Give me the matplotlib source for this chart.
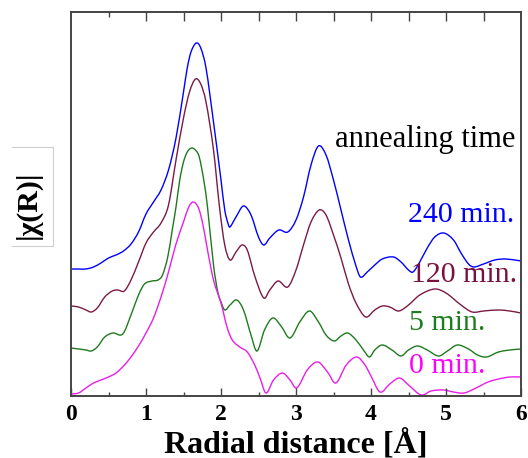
import matplotlib
matplotlib.use("Agg")
import matplotlib.pyplot as plt
from matplotlib.lines import Line2D
from matplotlib.path import Path
from matplotlib.patches import PathPatch
from matplotlib.ticker import MultipleLocator, FixedLocator, NullFormatter

# ---------------- data (heights in arbitrary units, curves stacked) ----------------
r_240 = [0, 0.1, 0.2, 0.3, 0.4, 0.5, 0.6, 0.7, 0.8, 0.9, 1.0, 1.1, 1.2, 1.3, 1.4, 1.5, 1.55, 1.6,
         1.67, 1.73, 1.8, 1.9, 2.0, 2.05, 2.1, 2.12, 2.2, 2.3, 2.4, 2.5, 2.57, 2.65, 2.77, 2.89, 3.0,
         3.1, 3.2, 3.3, 3.4, 3.5, 3.6, 3.7, 3.8, 3.86, 3.95, 4.05, 4.15, 4.3, 4.4, 4.5, 4.56, 4.65,
         4.75, 4.85, 4.97, 5.1, 5.2, 5.3, 5.37, 5.5, 5.65, 5.8, 6.0]
chi_240 = [127, 127, 127, 129, 133, 138, 141, 145, 152, 164, 182, 194, 206, 226, 258, 304, 328, 344,
           353, 348, 328, 274, 216, 186, 171, 169, 179, 190, 181, 159, 151, 158, 166, 164, 176,
           199, 231, 250, 241, 216, 186, 156, 130, 119, 124, 131, 137, 139, 134, 126, 124, 134,
           148, 159, 163, 156, 143, 132, 129, 132, 136, 137, 135]

r_120 = [0, 0.1, 0.2, 0.27, 0.35, 0.45, 0.55, 0.62, 0.71, 0.8, 0.9, 1.0, 1.1, 1.2, 1.3, 1.4, 1.5,
         1.58, 1.66, 1.73, 1.8, 1.9, 1.98, 2.05, 2.12, 2.2, 2.28, 2.35, 2.45, 2.57, 2.65, 2.76, 2.89,
         3.0, 3.1, 3.2, 3.31, 3.4, 3.5, 3.6, 3.7, 3.8, 3.93, 4.05, 4.15, 4.25, 4.37, 4.5, 4.65,
         4.85, 5.0, 5.2, 5.35, 5.5, 5.7, 5.85, 6.0]
chi_120 = [90, 89, 86, 84, 88, 99, 105, 106, 105, 116, 134, 153, 164, 173, 191, 236, 278,
           304, 317, 312, 294, 246, 189, 151, 136, 144, 151, 146, 120, 98, 106, 115, 109,
           126, 151, 174, 186, 181, 161, 138, 112, 93, 79, 86, 90, 89, 85, 91, 101,
           107, 103, 91, 84, 85, 86, 85, 83]

r_5 = [0, 0.1, 0.2, 0.27, 0.35, 0.45, 0.56, 0.69, 0.8, 0.9, 0.98, 1.08, 1.16, 1.22, 1.29, 1.35,
       1.4, 1.45, 1.5, 1.55, 1.61, 1.67, 1.71, 1.77, 1.82, 1.9, 1.96, 2.0, 2.05, 2.12, 2.21, 2.3,
       2.4, 2.48, 2.58, 2.69, 2.8, 2.92, 3.05, 3.18, 3.3, 3.4, 3.51, 3.6, 3.69, 3.8, 3.9, 3.98,
       4.05, 4.15, 4.28, 4.4, 4.5, 4.62, 4.75, 4.9, 5.02, 5.15, 5.3, 5.42, 5.54, 5.7, 5.85, 6.0]
chi_5 = [48, 47, 46, 45, 49, 59, 63, 62, 81, 101, 112, 115, 116, 121, 139, 166,
         189, 216, 234, 244, 248, 245, 239, 216, 189, 131, 103, 94, 86, 91, 96, 86,
         61, 45, 66, 78, 70, 58, 74, 85, 74, 61, 55, 60, 63, 56, 46, 39,
         46, 51, 46, 40, 46, 50, 46, 40, 45, 51, 47, 41, 39, 44, 46, 47]

r_0 = [0, 0.1, 0.2, 0.3, 0.4, 0.5, 0.6, 0.7, 0.8, 0.9, 1.0, 1.1, 1.2, 1.3, 1.4, 1.5, 1.57, 1.63,
       1.7, 1.76, 1.82, 1.9, 2.0, 2.08, 2.15, 2.25, 2.35, 2.45, 2.52, 2.6, 2.7, 2.82, 2.92, 3.01,
       3.15, 3.29, 3.42, 3.53, 3.67, 3.81, 3.92, 4.0, 4.12, 4.25, 4.38, 4.5, 4.67, 4.8, 4.97,
       5.1, 5.24, 5.4, 5.56, 5.7, 5.85, 6.0]
chi_0 = [2, 3, 8, 13, 16, 19, 23, 30, 39, 50, 63, 78, 99, 124, 152, 174, 189, 194,
         188, 171, 146, 116, 93, 69, 56, 49, 44, 31, 18, 3, 16, 23, 16, 8,
         26, 34, 24, 13, 31, 39, 31, 20, 4, 12, 18, 11, 1, 5, 6,
         4, 3, 8, 14, 17, 19, 19]

labels = ["240 min.", "120 min.", "5 min.", "0 min."]
legend_title = "annealing time"
x_ticks = [0, 1, 2, 3, 4, 5, 6]

# ---------------- styling ----------------
colors = ["#0000ff", "#7a1a45", "#1f7a1f", "#e81ee8"]
text_colors = ["#0000ff", "#7a1040", "#1e7d1e", "#ff00ff"]
serif = ["Liberation Serif", "DejaVu Serif"]
plt.rcParams["font.family"] = serif
plt.rcParams["font.weight"] = "bold"


def smooth_path(x, y):
    """Smooth (cubic Hermite, Bezier-drawn) path passing through the read points."""
    n = len(x)
    slopes = []
    for i in range(n):
        if i == 0:
            m = (y[1] - y[0]) / (x[1] - x[0])
        elif i == n - 1:
            m = (y[-1] - y[-2]) / (x[-1] - x[-2])
        else:
            m = (y[i + 1] - y[i - 1]) / (x[i + 1] - x[i - 1])
        slopes.append(m)
    verts = [(x[0], y[0])]
    codes = [Path.MOVETO]
    for i in range(n - 1):
        h = (x[i + 1] - x[i]) / 3.0
        verts += [(x[i] + h, y[i] + slopes[i] * h),
                  (x[i + 1] - h, y[i + 1] - slopes[i + 1] * h),
                  (x[i + 1], y[i + 1])]
        codes += [Path.CURVE4] * 3
    return Path(verts, codes)


fig = plt.figure(figsize=(5.28, 4.58), dpi=100)
ax = fig.add_axes([71 / 528, 62 / 458, 450 / 528, 384 / 458])

series = [(r_240, chi_240), (r_120, chi_120), (r_5, chi_5), (r_0, chi_0)]
for (r, c), col in zip(series, colors):
    ax.add_patch(PathPatch(smooth_path(r, c), facecolor="none", edgecolor=col, lw=1.0,
                           clip_on=True))

ax.set_xlim(0, 6)
ax.set_ylim(0, 384)

# text labels
ax.text(5.93, 249, legend_title, ha="right", va="baseline", fontsize=22,
        fontweight="normal", color="black")
label_pos = [(4.50, 174), (4.53, 114), (4.51, 66), (4.51, 23)]
for lab, (lx, ly), tc in zip(labels, label_pos, text_colors):
    ax.text(lx, ly, lab, ha="left", va="baseline", fontsize=21.5, fontweight="normal",
            color=tc)

# axes styling
for s in ax.spines.values():
    s.set_color("#444444")
    s.set_linewidth(1.4)

ax.xaxis.set_major_locator(FixedLocator(x_ticks))
ax.xaxis.set_minor_locator(MultipleLocator(0.5))
ax.set_yticks([])
ax.tick_params(axis="x", which="major", direction="in", length=5.8, width=1.0,
               color="#444444", pad=6, labelsize=17)
ax.tick_params(axis="x", which="minor", direction="in", length=3.0, width=1.0,
               color="#444444")

top = ax.secondary_xaxis("top")
top.xaxis.set_major_locator(FixedLocator([1, 1.5, 2, 2.5, 3, 3.5, 4, 4.5, 5, 5.5]))
top.xaxis.set_minor_locator(FixedLocator([0.5]))
top.xaxis.set_major_formatter(NullFormatter())
top.tick_params(which="major", direction="in", length=6.5, width=1.0, color="#444444")
top.tick_params(which="minor", direction="in", length=3.6, width=1.0, color="#444444")
top.spines["top"].set_visible(False)

ax.set_xlabel("Radial distance [Å]", fontsize=23, fontweight="bold", labelpad=2.5)

# y label with partial light-gray frame
fig.text(28 / 528, 1 - 205 / 458, "|χ(R)|", rotation=90, ha="center", va="center",
         fontsize=21.5, fontweight="bold")
gray = "#cfcfcf"
fig.add_artist(Line2D([12 / 528, 53 / 528], [1 - 147 / 458, 1 - 147 / 458], color=gray, lw=0.8))
fig.add_artist(Line2D([53 / 528, 53 / 528], [1 - 147 / 458, 1 - 246 / 458], color=gray, lw=0.8))
fig.add_artist(Line2D([12 / 528, 53 / 528], [1 - 246 / 458, 1 - 246 / 458], color=gray, lw=0.8))

fig.savefig("out.png", dpi=100)
